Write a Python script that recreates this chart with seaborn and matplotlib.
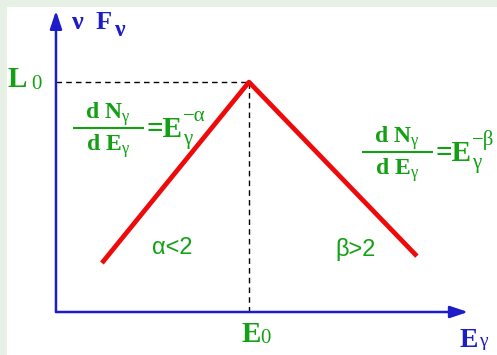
import matplotlib
matplotlib.use("Agg")
import matplotlib.pyplot as plt
import seaborn as sns
import pandas as pd
from matplotlib.patches import Rectangle
from matplotlib.font_manager import FontProperties

# Broken power-law spectrum in nu F_nu (log-log, arbitrary units)
log_energy = [0.238, 1.0, 1.87]      # start, E0 (peak), end
log_flux = [0.213, 1.0, 0.243]       # start, L0 (peak), end
peak_energy = 1.0
peak_flux = 1.0

BLUE = "#1c1cc8"
GREEN = "#14a014"
RED = "#ee0a0a"
FRAME = "#e6f0e4"

sns.set_theme(style="white")
plt.rcParams["font.family"] = ["Liberation Serif", "DejaVu Serif"]
plt.rcParams["mathtext.fontset"] = "custom"
plt.rcParams["mathtext.rm"] = "Liberation Serif"
plt.rcParams["mathtext.it"] = "Liberation Serif"
plt.rcParams["mathtext.bf"] = "Liberation Serif:bold"

fig = plt.figure(figsize=(4.97, 3.55), dpi=100, facecolor=FRAME)
ax = fig.add_axes([0, 0, 1, 1])
ax.set_xlim(-0.290, 2.285)
ax.set_ylim(-0.187, 1.357)
ax.axis("off")

# white drawing area inside the light frame
ax.add_patch(Rectangle((7 / 497, 0), 1, 1 - 7 / 355, transform=fig.transFigure,
                       facecolor="white", edgecolor="none", zorder=0))

# coordinate axes with arrow heads
arrow = dict(arrowstyle="-|>,head_length=0.9,head_width=0.3", color=BLUE, lw=1.8,
             shrinkA=0, shrinkB=0)
ax.annotate("", xy=(2.135, 0), xytext=(0, 0), arrowprops=arrow, zorder=3)
ax.annotate("", xy=(0, 1.31), xytext=(0, 0), arrowprops=arrow, zorder=3)

# guide lines to the peak
ax.plot([0, peak_energy], [peak_flux, peak_flux], ls=(0, (4, 3)), color="black", lw=1.0)
ax.plot([peak_energy, peak_energy], [0, peak_flux], ls=(0, (4, 3)), color="black", lw=1.0)

# spectrum
df = pd.DataFrame({"logE": log_energy, "logF": log_flux})
sns.lineplot(data=df, x="logE", y="logF", color=RED, lw=3.4, ax=ax, zorder=4,
             solid_capstyle="butt")


def label(x, y, s, size, color, bold=True, ha="left"):
    fp = FontProperties(family="Liberation Serif",
                        weight="bold" if bold else "normal", size=size)
    ax.text(x, y, s, color=color, fontproperties=fp, ha=ha, va="baseline")


# axis titles
label(0.080, 1.230, "ν", 19, BLUE)
label(0.207, 1.230, "F", 19, BLUE)
label(0.306, 1.200, "ν", 17, BLUE)
label(2.090, -0.152, "E", 20, BLUE)
label(2.190, -0.148, "γ", 14, BLUE, bold=False)

# peak markers
label(-0.252, 0.978, "L", 21, GREEN)
label(-0.130, 0.970, "0", 15, GREEN, bold=False)
label(0.962, -0.130, "E", 21, GREEN)
label(1.058, -0.134, "0", 15, GREEN, bold=False)


def power_law(cx, x0, x1, y_bar, exponent):
    """Draw dN/dE = E^exponent as a stacked fraction."""
    label(cx, y_bar + 0.040, r"$\mathbf{d\ N}_{\gamma}$", 17, GREEN, ha="center")
    ax.plot([x0, x1], [y_bar, y_bar], color=GREEN, lw=1.5, solid_capstyle="butt")
    label(cx, y_bar - 0.100, r"$\mathbf{d\ E}_{\gamma}$", 17, GREEN, ha="center")
    label(x1 + 0.014, y_bar - 0.040, "=E", 21, GREEN)
    label(x1 + 0.205, y_bar - 0.071, "γ", 15, GREEN, bold=False)
    label(x1 + 0.200, y_bar + 0.032, "\u2212" + exponent, 15, GREEN, bold=False)


power_law(0.268, 0.088, 0.456, 0.800, "α")
power_law(1.765, 1.585, 1.953, 0.696, "β")

ax.text(0.60, 0.28, "α<2", color=GREEN, fontsize=17, family="Liberation Sans",
        ha="center", va="center")
ax.text(1.55, 0.27, "β>2", color=GREEN, fontsize=17, family="Liberation Sans",
        ha="center", va="center")

fig.savefig("out.png", dpi=100, facecolor=FRAME)
